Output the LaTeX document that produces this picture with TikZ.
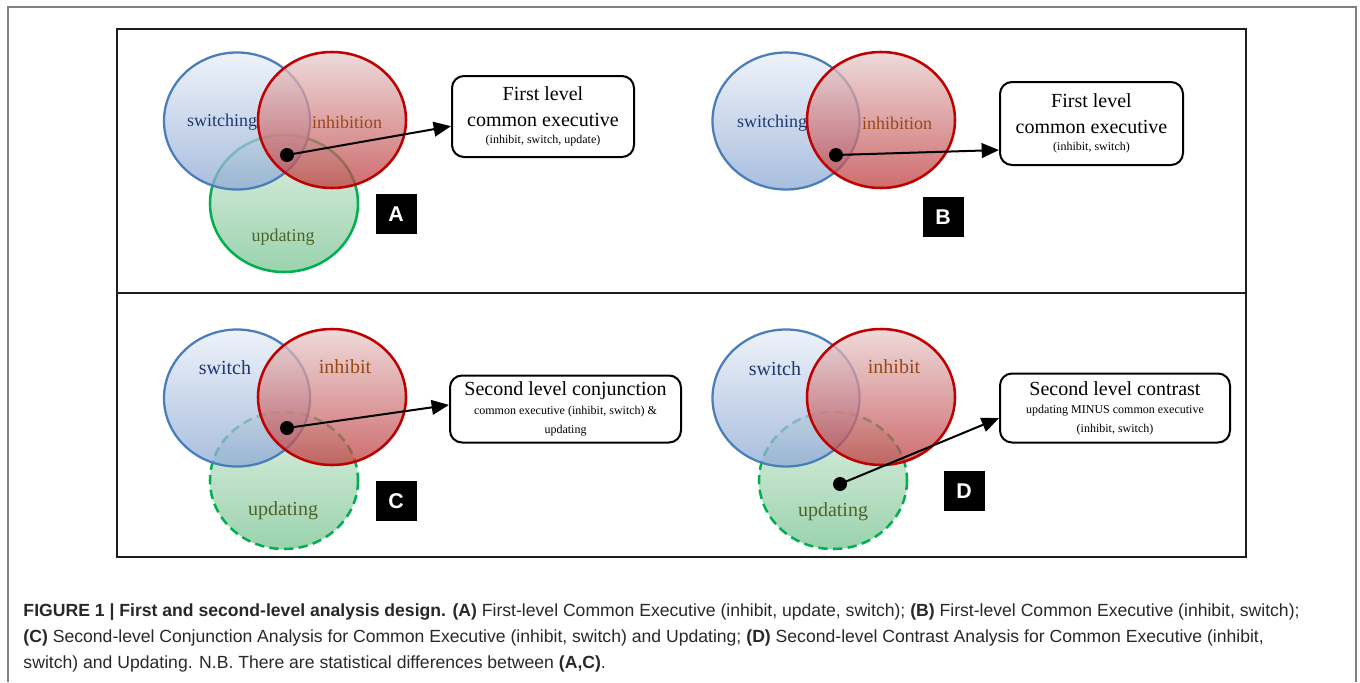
\documentclass[tikz,border=0pt]{standalone}
\usepackage{fontspec}
\setmainfont{Liberation Serif}
\newfontfamily\capfont{Liberation Sans}
\usetikzlibrary{arrows.meta}

\definecolor{swline}{RGB}{74,126,187}
\definecolor{swtop}{RGB}{232,238,247}
\definecolor{swbot}{RGB}{140,168,212}
\definecolor{swtext}{RGB}{31,56,110}
\definecolor{inline}{RGB}{192,0,0}
\definecolor{intop}{RGB}{232,205,206}
\definecolor{inbot}{RGB}{190,60,62}
\definecolor{intext}{RGB}{152,72,22}
\definecolor{upline}{RGB}{0,176,80}
\definecolor{uptop}{RGB}{214,234,216}
\definecolor{upbot}{RGB}{120,196,146}
\definecolor{uptext}{RGB}{79,98,40}
\definecolor{captext}{RGB}{40,40,40}

\tikzset{every picture/.style={line width=0.75pt}}
\tikzset{
  swset/.style={draw=swline, line width=1.7pt, top color=swtop, bottom color=swbot, fill opacity=0.75},
  inset/.style={draw=inline, line width=1.9pt, top color=intop, bottom color=inbot, fill opacity=0.75},
  upset/.style={draw=upline, line width=1.9pt, top color=uptop, bottom color=upbot, fill opacity=0.75},
  updash/.style={upset, dash pattern=on 7pt off 4pt},
  setlbl/.style={inner sep=0.75pt, font=\fontsize{13.5}{16}\selectfont},
  setlblbig/.style={inner sep=0.75pt, font=\fontsize{15}{18}\selectfont},
  dot/.style={circle, fill=black, inner sep=0pt, minimum size=10.5pt},
  arr/.style={line width=1.5pt, -{Triangle[length=13pt, width=11pt]}},
  resbox/.style={draw, line width=1.5pt, rounded corners=9pt, fill=white, align=center, inner sep=0pt, font=\fontsize{15}{19}\selectfont},
  small/.style={font=\fontsize{10}{13}\selectfont},
  tag/.style={fill=black, text=white, inner sep=0pt, minimum width=30.75pt, minimum height=30pt, font=\capfont\bfseries\fontsize{16}{16}\selectfont},
  caption/.style={anchor=base west, inner sep=0pt, text=captext, font=\capfont\fontsize{13.2}{16}\selectfont}
}

\begin{document}
\begin{tikzpicture}[x=0.75pt,y=0.75pt,yscale=-1,xscale=1]
\useasboundingbox (0,0) rectangle (1360,682);

%Outer frame
\draw [color={rgb, 255:red, 128; green, 128; blue, 128 }, line width=1.1pt] (8,682) |- (1356,7) -- (1356,682) ;
%Inner frame
\draw [color={rgb, 255:red, 30; green, 30; blue, 30 }, line width=1.5pt] (117,29) rectangle (1246,557) ;
\draw [color={rgb, 255:red, 30; green, 30; blue, 30 }, line width=1.5pt] (117,293) -- (1246,293) ;

%Panel A
\path [upset] (284,203.5) ellipse [x radius=74, y radius=68.5] ;
\path [swset] (237,121) ellipse [x radius=73, y radius=68.5] ;
\path [inset] (332,120) ellipse [x radius=74, y radius=68] ;
% Text Node
\node [setlbl, text=swtext] (swA) at (222,122) {switching};
\node [setlbl, text=intext] (inA) at (347,122) {inhibition};
\node [setlbl, text=uptext] (upA) at (283,237) {updating};
\node [dot] (dotA) at (287,155) {};
\node [resbox, minimum width=136.5pt, minimum height=60.75pt] (boxA) at (543,116.5) {First level\\common executive\\[-6pt]{\small (inhibit, switch, update)}};
\draw [arr] (dotA.center) -- (boxA.186) ;
\node [tag] (tagA) at (396,214) {A};

%Panel B
\path [swset] (786,121) ellipse [x radius=73.5, y radius=68.5] ;
\path [inset] (881,120) ellipse [x radius=74, y radius=68] ;
% Text Node
\node [setlbl, text=swtext] (swB) at (772,123) {switching};
\node [setlbl, text=intext] (inB) at (897,123) {inhibition};
\node [dot] (dotB) at (836,155) {};
\node [resbox, minimum width=137.25pt, minimum height=62.25pt] (boxB) at (1091.5,123.5) {First level\\common executive\\[-6pt]{\small (inhibit, switch)}};
\draw [arr] (dotB.center) -- (boxB.196) ;
\node [tag] (tagB) at (943,217) {B};

%Panel C
\path [updash] (284,480.5) ellipse [x radius=74, y radius=68.5] ;
\path [swset] (237,398) ellipse [x radius=73, y radius=68.5] ;
\path [inset] (332,397) ellipse [x radius=74, y radius=68] ;
% Text Node
\node [setlblbig, text=swtext] (swC) at (225,368) {switch};
\node [setlblbig, text=intext] (inC) at (345,367) {inhibit};
\node [setlblbig, text=uptext] (upC) at (283,511) {updating};
\node [dot] (dotC) at (287,428) {};
\node [resbox, minimum width=173.25pt, minimum height=50.25pt] (boxC) at (565.5,409) {Second level conjunction\\[-5pt]{\small common executive (inhibit, switch) \&}\\[-5pt]{\small updating}};
\draw [arr] (dotC.center) -- (boxC.178) ;
\node [tag] (tagC) at (396,501) {C};

%Panel D
\path [updash] (833,480.5) ellipse [x radius=74, y radius=68.5] ;
\path [swset] (786,398) ellipse [x radius=73.5, y radius=68.5] ;
\path [inset] (881,397) ellipse [x radius=74, y radius=68] ;
% Text Node
\node [setlblbig, text=swtext] (swD) at (775,369) {switch};
\node [setlblbig, text=intext] (inD) at (894,367) {inhibit};
\node [setlblbig, text=uptext] (upD) at (833,512) {updating};
\node [dot] (dotD) at (840,484) {};
\node [resbox, minimum width=172.5pt, minimum height=51.75pt] (boxD) at (1115,408) {Second level contrast\\[-5pt]{\small updating MINUS common executive}\\[-5pt]{\small (inhibit, switch)}};
\draw [arr] (dotD.center) -- (boxD.185) ;
\node [tag] (tagD) at (964,491) {D};

%Caption
\node [caption] (capA) at (23,616) {\textbf{FIGURE 1 | First and second-level analysis design. (A)} First-level Common Executive (inhibit, update, switch); \textbf{(B)} First-level Common Executive (inhibit, switch);};
\node [caption] (capB) at (23,642) {\textbf{(C)} Second-level Conjunction Analysis for Common Executive (inhibit, switch) and Updating; \textbf{(D)} Second-level Contrast Analysis for Common Executive (inhibit,};
\node [caption] (capC) at (23,668) {switch) and Updating. N.B. There are statistical differences between \textbf{(A,C)}.};

\end{tikzpicture}
\end{document}
